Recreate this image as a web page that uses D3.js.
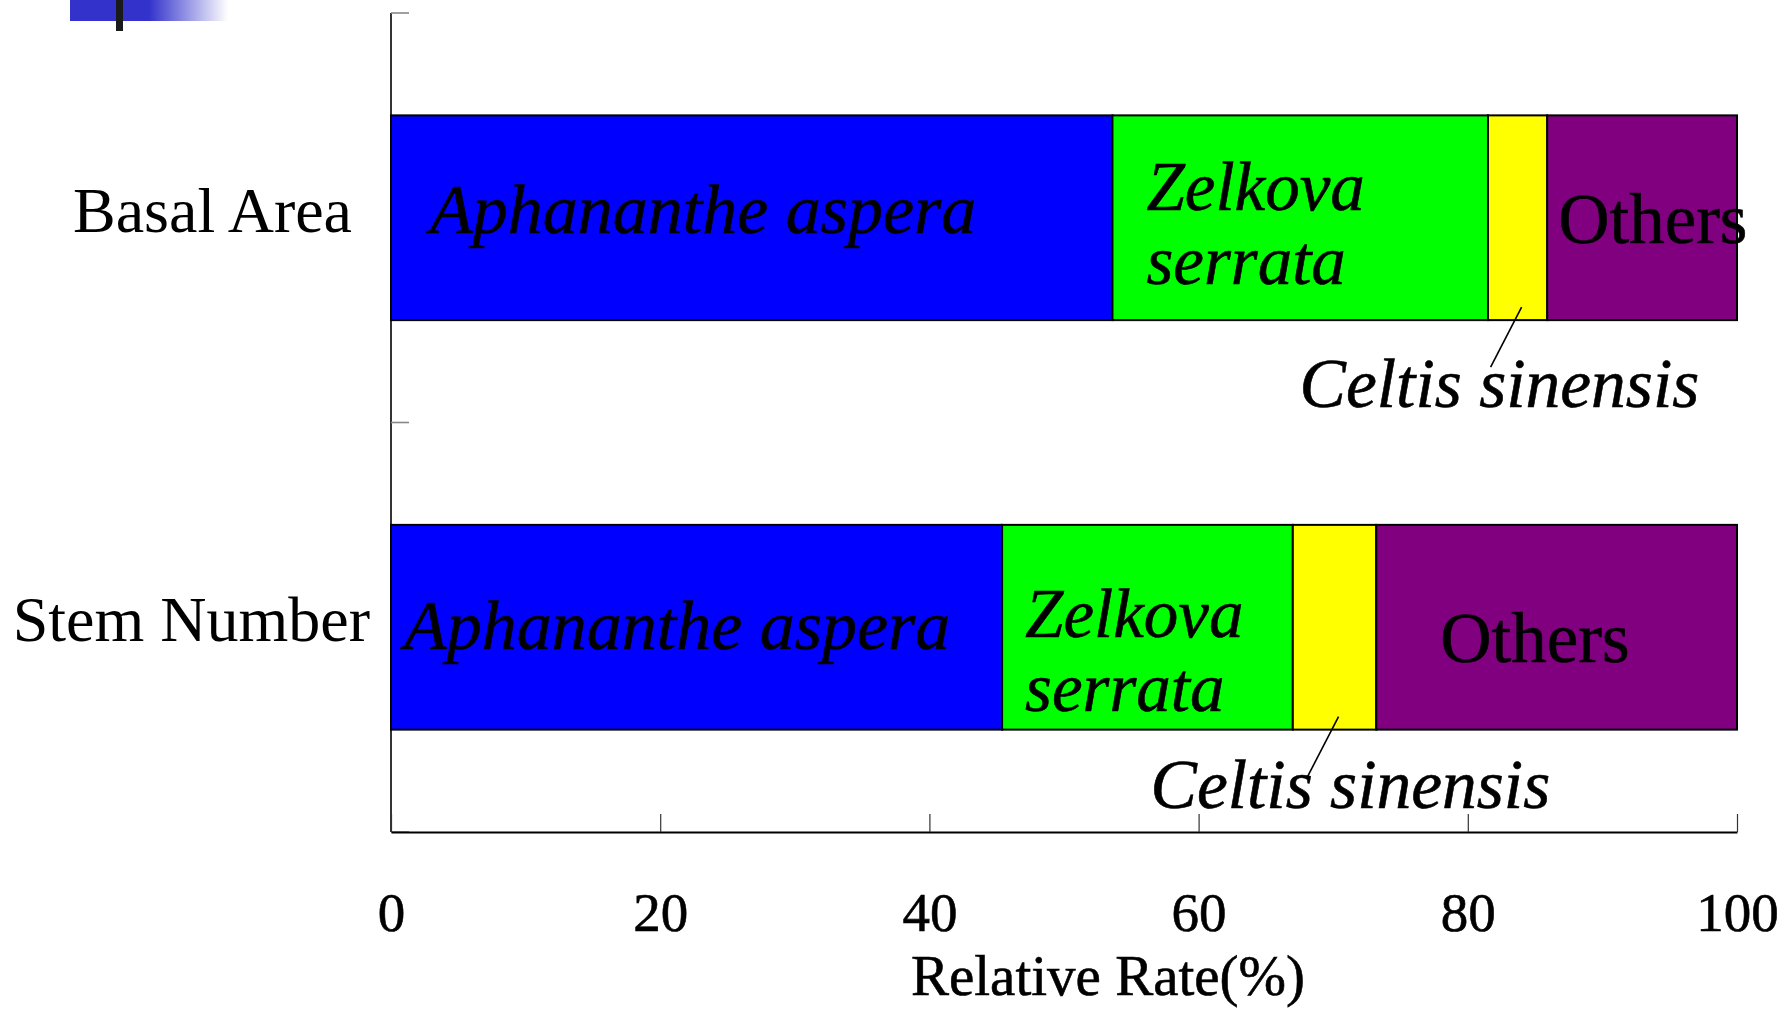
<!DOCTYPE html>
<html>
<head>
<meta charset="utf-8">
<script src="https://cdn.jsdelivr.net/npm/d3@7"></script>
<style>
  html, body { margin: 0; padding: 0; background: #fff; }
  svg { display: block; }
  text { font-family: "Liberation Serif", "Times New Roman", serif; fill: #000; }
  .heavy { stroke: #000; stroke-width: 0.6px; }
</style>
</head>
<body>
<svg id="chart" width="1786" height="1009"></svg>
<script>
// Relative share of each species, per measure (percent)
const categories = ["Basal Area", "Stem Number"];
const species = ["Aphananthe aspera", "Zelkova serrata", "Celtis sinensis", "Others"];
const aphanantheAspera = [53.6, 45.4];
const zelkovaSerrata = [27.9, 21.6];
const celtisSinensis = [4.4, 6.2];
const others = [14.1, 26.8];
const speciesColors = ["#0000ff", "#00ff00", "#ffff00", "#800080"];
const xTickValues = [0, 20, 40, 60, 80, 100];
const xTitle = "Relative Rate(%)";

const svg = d3.select("#chart");

// Slide-style decoration in the upper left corner
const defs = svg.append("defs");
const grad = defs.append("linearGradient").attr("id", "fade").attr("x1", "0").attr("x2", "1");
grad.append("stop").attr("offset", "0.5").attr("stop-color", "#3333cc");
grad.append("stop").attr("offset", "1").attr("stop-color", "#ffffff");
svg.append("rect").attr("x", 70).attr("y", 0).attr("width", 158).attr("height", 21).attr("fill", "url(#fade)");
svg.append("rect").attr("x", 116).attr("y", 0).attr("width", 7).attr("height", 31).attr("fill", "#1a1a1a");

const plotLeft = 391, plotRight = 1737, plotTop = 13, plotBottom = 832;

const x = d3.scaleLinear().domain([0, 100]).range([plotLeft, plotRight]);
const y = d3.scaleBand().domain(categories).range([plotTop, plotBottom])
  .paddingInner(0.5).paddingOuter(0.25);

// Stack the series per category
const rows = categories.map((c, i) => ({
  category: c,
  "Aphananthe aspera": aphanantheAspera[i],
  "Zelkova serrata": zelkovaSerrata[i],
  "Celtis sinensis": celtisSinensis[i],
  "Others": others[i]
}));
const stacked = d3.stack().keys(species)(rows);

const color = d3.scaleOrdinal().domain(species).range(speciesColors);

// Bars
const layers = svg.append("g").selectAll("g").data(stacked).join("g")
  .attr("fill", d => color(d.key));
layers.selectAll("rect").data(d => d).join("rect")
  .attr("x", d => x(d[0]))
  .attr("y", d => y(d.data.category))
  .attr("width", d => x(d[1]) - x(d[0]))
  .attr("height", y.bandwidth())
  .attr("stroke", "#000")
  .attr("stroke-width", 2);

// Left axis with category-boundary ticks pointing inward
const yAxisG = svg.append("g");
yAxisG.append("line").attr("x1", plotLeft).attr("x2", plotLeft).attr("y1", plotTop).attr("y2", plotBottom)
  .attr("stroke", "#000").attr("stroke-width", 1.6);
d3.range(categories.length + 1).forEach(i => {
  const ty = plotTop + i * y.step();
  yAxisG.append("line").attr("x1", plotLeft).attr("x2", plotLeft + 18).attr("y1", ty).attr("y2", ty)
    .attr("stroke", "#888").attr("stroke-width", 1.6);
});

// Category labels
const catLabelRight = [352, 370];
svg.append("g").selectAll("text").data(categories).join("text")
  .attr("x", (d, i) => catLabelRight[i])
  .attr("y", d => y(d) + y.bandwidth() / 2 + 14)
  .attr("text-anchor", "end")
  .attr("font-size", 64)
  .text(d => d);

// Bottom axis
const xAxis = d3.axisBottom(x).tickValues(xTickValues).tickSizeInner(-18).tickSizeOuter(0).tickPadding(60);
const xAxisG = svg.append("g").attr("transform", `translate(0,${plotBottom})`).call(xAxis);
xAxisG.select(".domain").attr("stroke", "#000").attr("stroke-width", 2);
xAxisG.selectAll(".tick line").attr("stroke", "#333").attr("stroke-width", 1.2);
xAxisG.selectAll(".tick text").attr("font-size", 55).attr("font-family", "Liberation Serif, serif")
  .attr("fill", "#000").attr("class", "heavy");

svg.append("text")
  .attr("x", 1108).attr("y", 995)
  .attr("text-anchor", "middle")
  .attr("font-size", 57)
  .attr("class", "heavy")
  .text(xTitle);

// Species labels inside / beside the bars
function seg(key, ci) {
  const layer = stacked.find(s => s.key === key);
  return layer[ci];
}
const labelG = svg.append("g");
function center(ci) { return y(categories[ci]) + y.bandwidth() / 2; }

// Aphananthe aspera
[[39, 15], [13, 22]].forEach(([dx, dy], ci) => {
  const s = seg("Aphananthe aspera", ci);
  labelG.append("text").attr("x", x(s[0]) + dx).attr("y", center(ci) + dy)
    .attr("font-size", 70).attr("font-style", "italic").attr("class", "heavy").text("Aphananthe aspera");
});

// Zelkova serrata, on two lines
[[34, -8], [23, 10]].forEach(([dx, dy], ci) => {
  const s = seg("Zelkova serrata", ci);
  const t = labelG.append("text").attr("x", x(s[0]) + dx).attr("y", center(ci) + dy)
    .attr("font-size", 69).attr("font-style", "italic").attr("class", "heavy");
  const parts = species[1].split(" ");
  t.append("tspan").attr("x", x(s[0]) + dx).text(parts[0]);
  t.append("tspan").attr("x", x(s[0]) + dx).attr("dy", 74).text(parts[1]);
});

// Others
[[11, 25], [64, 35]].forEach(([dx, dy], ci) => {
  const s = seg("Others", ci);
  labelG.append("text").attr("x", x(s[0]) + dx).attr("y", center(ci) + dy)
    .attr("font-size", 71).attr("class", "heavy").text("Others");
});

// Celtis sinensis, below the bar with a leader line
[[-218, 87], [-184, 78]].forEach(([dx, dy], ci) => {
  const s = seg("Celtis sinensis", ci);
  const mid = (x(s[0]) + x(s[1])) / 2;
  const barBottom = y(categories[ci]) + y.bandwidth();
  labelG.append("line")
    .attr("x1", mid + 4).attr("y1", barBottom - 13)
    .attr("x2", mid - 27).attr("y2", barBottom + 47)
    .attr("stroke", "#000").attr("stroke-width", 1.6);
  labelG.append("text").attr("x", mid + dx).attr("y", barBottom + dy)
    .attr("font-size", 69.5).attr("font-style", "italic").attr("class", "heavy").text("Celtis sinensis");
});
</script>
</body>
</html>
